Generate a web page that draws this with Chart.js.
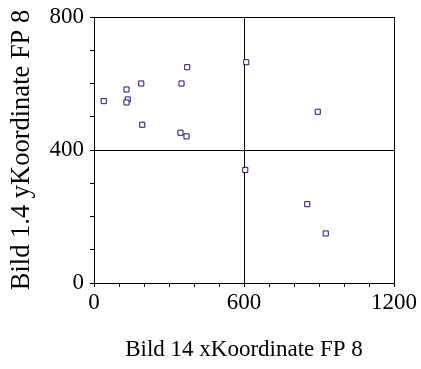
<!DOCTYPE html>
<html>
<head>
<meta charset="utf-8">
<script src="https://cdn.jsdelivr.net/npm/chart.js@4/dist/chart.umd.min.js"></script>
<style>
html,body{margin:0;padding:0;background:#fff;}
#wrap{width:421px;height:369px;}
</style>
</head>
<body>
<div id="wrap"><canvas id="c" width="421" height="369"></canvas></div>
<script>
const xValues = [39, 130, 189, 135, 130, 373, 350, 609, 193, 346, 370, 895, 605, 853, 927];
const yValues = [547, 582, 600, 552, 543, 649, 600, 664, 476, 452, 441, 515, 340, 237, 149];
const xTickLabels = [0, 600, 1200];
const yTickLabels = [0, 400, 800];
const xTitle = 'Bild 14 xKoordinate FP 8';
const yTitle = 'Bild 1.4 yKoordinate FP 8';

const points = xValues.map((x, i) => ({x: x, y: yValues[i]}));
const serif = "'Liberation Serif', 'Times New Roman', serif";

new Chart(document.getElementById('c'), {
  type: 'scatter',
  data: {
    datasets: [{
      data: points,
      pointStyle: 'rect',
      pointRadius: 3.6,
      pointHoverRadius: 3.6,
      borderColor: '#141488',
      backgroundColor: '#ffffff',
      borderWidth: 1
    }]
  },
  options: {
    responsive: false,
    animation: false,
    events: [],
    layout: {padding: {top: 17, right: 27, left: 0, bottom: 0}},
    plugins: {legend: {display: false}, tooltip: {enabled: false}},
    scales: {
      x: {
        type: 'linear',
        min: 0, max: 1200,
        afterFit: s => { s.height = 86; },
        ticks: {
          stepSize: 100,
          autoSkip: false,
          maxRotation: 0,
          padding: 2,
          color: '#000',
          font: {family: serif, size: 23},
          callback: v => xTickLabels.includes(v) ? String(v) : ''
        },
        grid: {
          color: c => (c.tick && (c.tick.value === 600 || c.tick.value === 1200)) ? '#000' : 'rgba(0,0,0,0)',
          tickColor: '#000',
          tickLength: 4,
          lineWidth: 1
        },
        border: {color: '#000', width: 1},
        title: {
          display: true,
          text: xTitle,
          color: '#000',
          font: {family: serif, size: 23},
          padding: {top: 0, bottom: 5}
        }
      },
      y: {
        type: 'linear',
        min: 0, max: 800,
        afterFit: s => { s.width = 94; },
        ticks: {
          stepSize: 100,
          autoSkip: false,
          padding: 6,
          color: '#000',
          font: {family: serif, size: 23, lineHeight: 0.95},
          callback: v => yTickLabels.includes(v) ? String(v) : ''
        },
        grid: {
          color: c => (c.tick && (c.tick.value === 400 || c.tick.value === 800)) ? '#000' : 'rgba(0,0,0,0)',
          tickColor: '#000',
          tickLength: 4,
          lineWidth: 1
        },
        border: {color: '#000', width: 1},
        title: {
          display: true,
          text: yTitle,
          color: '#000',
          font: {family: serif, size: 26.5},
          padding: {top: 6, bottom: 0}
        }
      }
    }
  }
});
</script>
</body>
</html>
